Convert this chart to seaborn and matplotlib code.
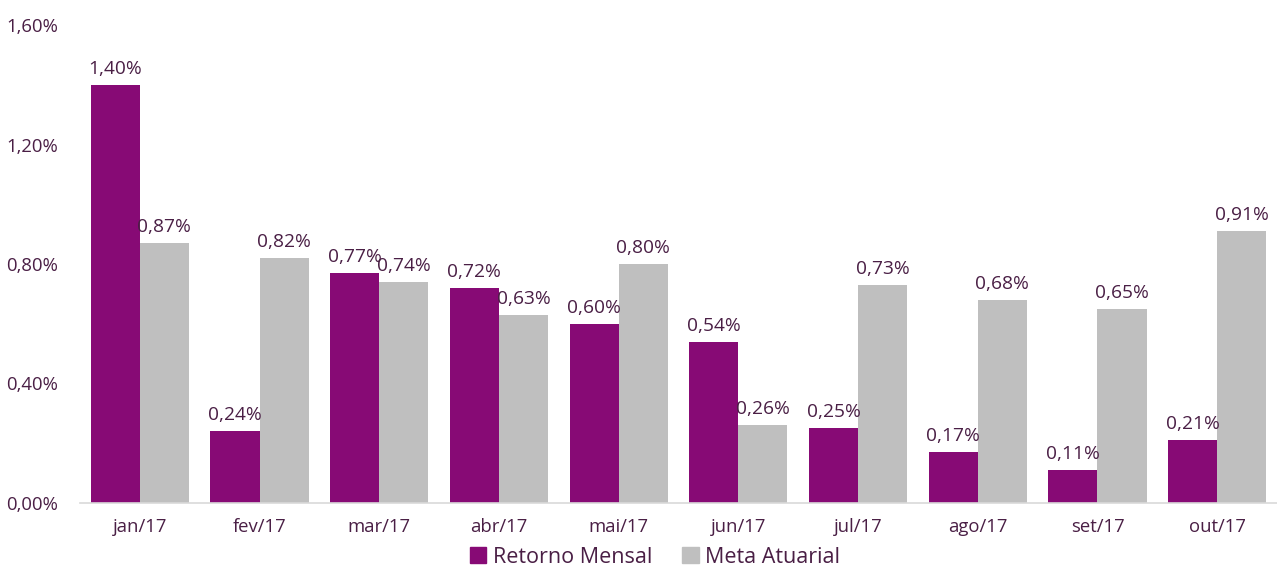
import pandas as pd
import matplotlib.pyplot as plt
import seaborn as sns

# Dados do gráfico
meses = ["jan/17", "fev/17", "mar/17", "abr/17", "mai/17",
         "jun/17", "jul/17", "ago/17", "set/17", "out/17"]
retorno_mensal = [1.40, 0.24, 0.77, 0.72, 0.60, 0.54, 0.25, 0.17, 0.11, 0.21]
meta_atuarial = [0.87, 0.82, 0.74, 0.63, 0.80, 0.26, 0.73, 0.68, 0.65, 0.91]
series = ["Retorno Mensal", "Meta Atuarial"]
yticks = [0.0, 0.4, 0.8, 1.2, 1.6]

df = pd.DataFrame({
    "mes": meses * 2,
    "valor": retorno_mensal + meta_atuarial,
    "serie": [series[0]] * len(meses) + [series[1]] * len(meses),
})

texto = "#4A1F45"
cores = {"Retorno Mensal": "#870A75", "Meta Atuarial": "#BFBFBF"}

sns.set_style("white")
plt.rcParams["font.family"] = ["Open Sans", "DejaVu Sans"]

fig = plt.figure(figsize=(12.77, 5.71), dpi=100)
ax = fig.add_axes([80 / 1277, 1 - 503 / 571, 1197 / 1277, 478 / 571])

sns.barplot(data=df, x="mes", y="valor", hue="serie", palette=cores,
            width=0.82, ax=ax, legend=False, saturation=1, linewidth=0)

def fmt(v):
    return f"{v:.2f}".replace(".", ",") + "%"

for cont in ax.containers:
    vals = [b.get_height() for b in cont]
    ax.bar_label(cont, labels=[fmt(v) for v in vals], padding=5,
                 fontsize=13.8, color=texto)

ax.set_ylim(0, 1.6)
ax.set_xlim(-0.5, 9.475)
ax.set_yticks(yticks)
ax.set_yticklabels([fmt(v) for v in yticks], fontsize=13.3, color=texto)
ax.tick_params(axis="y", length=0, pad=16)
ax.tick_params(axis="x", which="major", length=0, pad=11, labelsize=13.3, labelcolor=texto)
ax.set_xticks([i - 0.5 for i in range(11)], minor=True)
ax.tick_params(axis="x", which="minor", length=6, color="#D9D9D9", width=1)
ax.set_xlabel("")
ax.set_ylabel("")

for s in ["top", "right", "left"]:
    ax.spines[s].set_visible(False)
ax.spines["bottom"].set_color("#D9D9D9")
ax.spines["bottom"].set_linewidth(1.2)

handles = [plt.Rectangle((0, 0), 1, 1, color=cores[s]) for s in series]
fig.legend(handles, series, loc="lower center", bbox_to_anchor=(0.513, -0.028),
           ncol=2, frameon=False, fontsize=15.5, labelcolor=texto,
           handlelength=0.75, handleheight=0.75, handletextpad=0.3,
           columnspacing=1.4)

fig.savefig("out.png", dpi=100)
